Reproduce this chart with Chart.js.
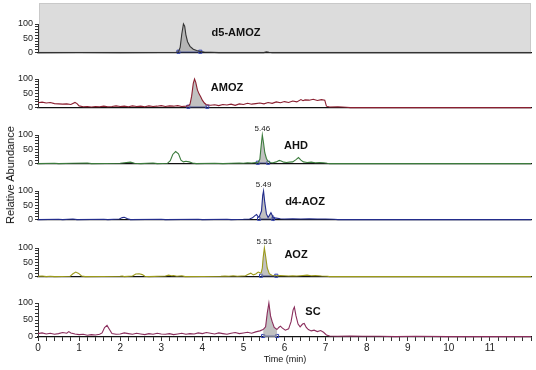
<!DOCTYPE html>
<html lang="en">
<head>
<meta charset="UTF-8">
<title>Chromatograms</title>
<script src="https://cdn.jsdelivr.net/npm/chart.js"></script>
<style>
    * { margin: 0; padding: 0; box-sizing: border-box; }
    body {
        width: 536px;
        height: 370px;
        background: white;
        position: relative;
        overflow: hidden;
        font-family: 'Liberation Sans', Arial, sans-serif;
        color: #111;
    }
    canvas { position: absolute; left: 0; }
    .name {
        position: absolute;
        font-weight: bold;
        font-size: 11px;
        transform: translate(-50%, -50%);
        white-space: nowrap;
    }
    .ylab {
        position: absolute;
        left: 10px;
        top: 175px;
        font-size: 11px;
        transform: translate(-50%, -50%) rotate(-90deg);
        white-space: nowrap;
    }
    .xlab {
        position: absolute;
        left: 285px;
        top: 359px;
        font-size: 9px;
        transform: translate(-50%, -50%);
        white-space: nowrap;
    }
</style>
</head>
<body>

<canvas id="p0" width="536" height="58"></canvas>
<canvas id="p1" width="536" height="58"></canvas>
<canvas id="p2" width="536" height="58"></canvas>
<canvas id="p3" width="536" height="58"></canvas>
<canvas id="p4" width="536" height="58"></canvas>
<canvas id="p5" width="536" height="80"></canvas>

<div class="name" style="left:236px; top:32px;">d5-AMOZ</div>
<div class="name" style="left:227px; top:87px;">AMOZ</div>
<div class="name" style="left:296px; top:145px;">AHD</div>
<div class="name" style="left:305px; top:201px;">d4-AOZ</div>
<div class="name" style="left:296px; top:254px;">AOZ</div>
<div class="name" style="left:313px; top:311px;">SC</div>
<div class="ylab">Relative Abundance</div>
<div class="xlab">Time (min)</div>

<script>
// ---- data: [time (min), relative abundance] ----
const panelNames = ["d5-AMOZ", "AMOZ", "AHD", "d4-AOZ", "AOZ", "SC"];
const peakLabels = ["", "", "5.46", "5.49", "5.51", ""];
const peakTimes = [3.54, 3.81, 5.46, 5.49, 5.51, 5.62];
const peakWindows = [[3.42, 3.95], [3.66, 4.12], [5.35, 5.6], [5.38, 5.72], [5.43, 5.8], [5.48, 5.82]];
const xTickLabels = [0, 1, 2, 3, 4, 5, 6, 7, 8, 9, 10, 11];
const yTickLabels = [0, 50, 100];

const d5AmozTrace = [[0,0],[1.0,0.5],[2.0,0],[3.0,0.5],[3.35,0.5],[3.42,3],[3.46,18],[3.5,65],[3.54,100],[3.57,92],
    [3.6,62],[3.64,38],[3.7,22],[3.78,12],[3.86,7],[3.94,4],[4.05,2],[4.2,1],[4.4,0],[5.5,0],[5.56,3],[5.62,1],[5.7,0],[12,0]];

const amozTrace = [[0,17],[0.1,19],[0.2,16],[0.3,18],[0.4,14],[0.5,13],[0.6,12],[0.7,13],[0.8,11],[0.9,18],[0.95,14],
    [1.0,6],[1.1,3],[1.2,4],[1.3,2],[1.4,4],[1.5,3],[1.6,5],[1.7,3],[1.8,4],[1.9,6],[2.0,4],[2.1,5],[2.2,3],[2.3,6],
    [2.4,4],[2.5,5],[2.6,3],[2.7,6],[2.8,4],[2.9,5],[3.0,7],[3.1,4],[3.2,6],[3.3,5],[3.4,7],[3.5,4],[3.6,5],[3.66,6],
    [3.7,12],[3.74,40],[3.78,85],[3.81,100],[3.84,88],[3.88,62],[3.92,48],[3.96,38],[4.0,26],[4.05,16],[4.1,10],[4.2,8],
    [4.3,10],[4.4,7],[4.5,11],[4.6,9],[4.7,12],[4.8,8],[4.9,13],[5.0,11],[5.1,15],[5.2,12],[5.3,14],[5.4,16],[5.5,13],
    [5.6,18],[5.7,15],[5.8,20],[5.9,17],[6.0,21],[6.1,18],[6.2,23],[6.3,20],[6.4,28],[6.45,24],[6.5,27],[6.6,26],
    [6.7,29],[6.8,25],[6.9,28],[6.98,26],[7.02,5],[7.1,2],[7.3,3],[7.5,1],[7.6,0],[12,0]];

const ahdTrace = [[0,0],[0.4,1],[0.5,0],[0.85,1],[1.2,2],[1.3,0],[2.0,1],[2.15,4],[2.25,5],[2.35,1],[2.5,0],[2.8,2],
    [2.9,0],[3.15,1],[3.22,10],[3.28,32],[3.35,42],[3.42,34],[3.48,12],[3.54,6],[3.6,8],[3.68,6],[3.76,2],[3.85,0],
    [4.3,1],[4.5,0],[4.9,2],[5.0,1],[5.1,3],[5.2,2],[5.3,4],[5.35,3],[5.4,15],[5.43,60],[5.46,100],[5.49,72],[5.52,38],
    [5.56,18],[5.6,7],[5.66,4],[5.72,3],[5.8,6],[5.87,11],[5.92,9],[5.98,5],[6.05,4],[6.12,5],[6.2,6],[6.28,14],
    [6.34,21],[6.4,12],[6.46,6],[6.55,4],[6.65,5],[6.75,3],[6.85,4],[6.95,3],[7.04,1],[7.1,0],[12,0]];

const d4AozTrace = [[0,0],[0.5,1],[0.6,0],[0.85,2],[0.95,0],[1.6,1],[1.7,0],[1.98,2],[2.05,7],[2.1,8],[2.18,3],
    [2.25,0],[3.0,1],[3.1,0],[3.9,1],[4.0,0],[4.6,1],[4.7,0],[5.0,1],[5.15,2],[5.22,6],[5.28,14],[5.32,18],[5.36,10],
    [5.38,8],[5.44,30],[5.47,85],[5.49,100],[5.52,60],[5.56,20],[5.6,8],[5.63,14],[5.67,24],[5.7,15],[5.72,6],[5.8,5],
    [5.9,3],[6.0,2],[6.2,3],[6.4,2],[6.6,3],[6.8,2],[7.0,2],[7.2,1],[7.3,0],[12,0]];

const aozTrace = [[0,1],[0.1,2],[0.2,0],[0.3,1],[0.4,0],[0.78,1],[0.85,10],[0.92,16],[0.99,11],[1.06,2],[1.15,0],
    [2.0,1],[2.05,2],[2.1,0],[2.3,2],[2.38,9],[2.46,10],[2.54,7],[2.6,1],[2.7,0],[3.1,2],[3.18,5],[3.25,3],[3.3,4],
    [3.38,1],[3.5,3],[3.58,0],[4.45,1],[4.55,2],[4.65,1],[4.75,3],[4.85,1],[4.95,2],[5.05,3],[5.12,8],[5.18,12],
    [5.24,6],[5.3,9],[5.36,16],[5.43,12],[5.46,30],[5.48,65],[5.51,100],[5.54,72],[5.58,30],[5.63,10],[5.7,4],[5.8,3],
    [5.9,4],[6.0,3],[6.1,2],[6.2,3],[6.3,2],[6.45,4],[6.55,5],[6.65,3],[6.75,4],[6.9,2],[7.04,1],[7.1,0],[12,0]];

const scTrace = [[0,10],[0.1,12],[0.2,9],[0.3,11],[0.4,8],[0.5,10],[0.6,13],[0.7,11],[0.75,16],[0.8,12],[0.9,9],
    [1.0,7],[1.1,8],[1.2,5],[1.3,7],[1.4,6],[1.5,8],[1.56,12],[1.62,28],[1.68,34],[1.74,22],[1.8,10],[1.9,8],[2.0,9],
    [2.1,12],[2.2,10],[2.3,8],[2.4,11],[2.5,9],[2.6,7],[2.7,10],[2.8,8],[2.9,11],[3.0,9],[3.1,8],[3.2,10],[3.3,7],
    [3.4,9],[3.5,11],[3.6,8],[3.7,10],[3.8,9],[3.9,12],[4.0,10],[4.1,13],[4.2,11],[4.3,9],[4.4,12],[4.5,10],[4.6,8],
    [4.7,11],[4.8,13],[4.9,10],[5.0,12],[5.1,14],[5.2,11],[5.3,15],[5.4,18],[5.48,22],[5.54,30],[5.58,70],[5.62,100],
    [5.66,62],[5.7,45],[5.75,28],[5.82,22],[5.86,28],[5.9,32],[5.95,26],[6.02,20],[6.1,24],[6.16,45],[6.21,80],
    [6.24,88],[6.28,62],[6.33,38],[6.38,30],[6.44,38],[6.48,40],[6.53,28],[6.58,22],[6.65,18],[6.72,20],[6.8,16],
    [6.88,19],[6.95,14],[7.02,6],[7.1,3],[7.3,2],[7.6,3],[7.9,2],[8.3,2],[8.7,1],[9.2,2],[10,1],[11,1],[12,1]];

const traces = [d5AmozTrace, amozTrace, ahdTrace, d4AozTrace, aozTrace, scTrace];

// ---- styling / layout ----
const lineColors = ["#333333", "#8a1f30", "#3c7c3d", "#232d8c", "#9c9a1a", "#8a2d5c"];
const baselines = [58, 113, 169, 225, 282, 337];
const PAD_TOP = 22, AREA_H = 34;
const FONT = "'Liberation Sans Narrow', 'Liberation Sans', Arial, sans-serif";

const panelDeco = {
    id: "panelDeco",
    beforeDraw(chart, args, opts) {
        if (!opts.bg) return;
        const { ctx, chartArea: a } = chart;
        ctx.save();
        ctx.fillStyle = opts.bg;
        ctx.fillRect(a.left + 1, a.top - 21, a.right - a.left - 1, a.bottom - a.top + 21);
        ctx.strokeStyle = "#c9c9c9";
        ctx.strokeRect(a.left + 1.5, a.top - 20.5, a.right - a.left - 2, a.bottom - a.top + 20);
        ctx.restore();
    },
    afterDatasetsDraw(chart, args, opts) {
        if (!opts.text) return;
        const { ctx } = chart;
        const x = chart.scales.x.getPixelForValue(opts.at);
        const y = chart.scales.y.getPixelForValue(100);
        ctx.save();
        ctx.font = "8px " + FONT;
        ctx.fillStyle = "#222";
        ctx.textAlign = "center";
        ctx.textBaseline = "bottom";
        ctx.fillText(opts.text, x, y - 2);
        ctx.restore();
    }
};

traces.forEach(function (trace, i) {
    const bottom = i === traces.length - 1;
    const canvas = document.getElementById("p" + i);
    canvas.style.top = (baselines[i] - PAD_TOP - AREA_H) + "px";
    const win = peakWindows[i];
    const inWin = t => t >= win[0] - 1e-6 && t <= win[1] + 1e-6;

    new Chart(canvas.getContext("2d"), {
        type: "line",
        data: {
            datasets: [{
                label: panelNames[i],
                data: trace.map(p => ({ x: p[0], y: p[1] })),
                borderColor: lineColors[i],
                borderWidth: 1.1,
                pointRadius: 0,
                tension: 0,
                clip: false,
                fill: "origin",
                backgroundColor: "rgba(0,0,0,0)",
                segment: {
                    backgroundColor: c => (inWin(c.p0.parsed.x) && inWin(c.p1.parsed.x)) ? "rgba(160,160,160,0.65)" : "rgba(0,0,0,0)"
                }
            }, {
                label: "integration",
                data: win.map(t => ({ x: t, y: 3 })),
                borderColor: "#2b3cb0",
                borderWidth: 1,
                pointStyle: "rect",
                pointRadius: 2.2,
                pointBorderColor: "#2b3cb0",
                pointBackgroundColor: "rgba(255,255,255,0)",
                pointBorderWidth: 1,
                clip: false,
                fill: false
            }]
        },
        options: {
            responsive: false,
            animation: false,
            devicePixelRatio: 1,
            layout: { padding: { top: PAD_TOP, right: 5, left: 0, bottom: 0 } },
            plugins: {
                legend: { display: false },
                tooltip: { enabled: false },
                panelDeco: { bg: i === 0 ? "#dcdcdc" : null, text: peakLabels[i], at: peakTimes[i] }
            },
            scales: {
                x: {
                    type: "linear",
                    min: 0,
                    max: 12,
                    afterFit: s => { s.height = bottom ? 24 : 2; },
                    border: { display: true, color: "#111", width: 1.2 },
                    grid: { drawOnChartArea: false, drawTicks: bottom, tickLength: 4, color: "#333" },
                    ticks: {
                        display: bottom,
                        stepSize: 0.2,
                        autoSkip: false,
                        maxRotation: 0,
                        padding: 1,
                        color: "#222",
                        font: { size: 10, family: FONT },
                        callback: v => {
                            const r = Math.round(v);
                            return (Math.abs(v - r) < 1e-6 && xTickLabels.includes(r)) ? String(r) : "";
                        }
                    }
                },
                y: {
                    min: 0,
                    max: 100,
                    afterFit: s => { s.width = 38; },
                    border: { display: true, color: "#333", width: 1 },
                    grid: { drawOnChartArea: false, tickLength: 3, color: "#333" },
                    ticks: {
                        stepSize: 10,
                        autoSkip: false,
                        padding: 2,
                        color: "#222",
                        font: { size: 9, family: FONT },
                        callback: v => yTickLabels.includes(v) ? String(v) : ""
                    }
                }
            }
        },
        plugins: [panelDeco]
    });
});
</script>
</body>
</html>
